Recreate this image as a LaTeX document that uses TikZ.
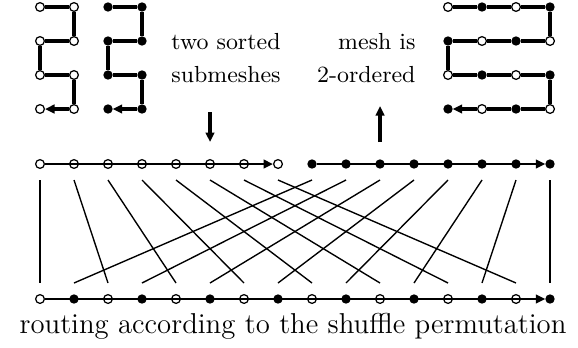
\documentclass[tikz,border=0pt]{standalone}
\usepackage{fontspec}
\usetikzlibrary{arrows.meta}
\begin{document}
\begin{tikzpicture}[x=0.4pt, y=-0.4pt,
  onode/.style={circle, draw, fill=white, line width=0.5pt, inner sep=0pt, minimum size=3.5pt},
  fnode/.style={circle, draw, fill=black, line width=0.5pt, inner sep=0pt, minimum size=3.2pt},
  kind0/.style={onode},
  kind1/.style={fnode},
  mesh/.style={line width=1.25pt},
  row/.style={line width=0.95pt},
  route/.style={line width=0.55pt},
  edge/.style={line width=1.05pt},
  tip/.style={-{Triangle[length=3.8pt, width=3.4pt]}},
  lbl/.style={font=\fontsize{9.3}{13.2}\selectfont, inner sep=0pt}
]
\useasboundingbox (0,0) rectangle (578,347);

% two sorted submeshes and the 2-ordered mesh
\foreach \c in {0,1}
  \foreach \r in {0,...,3} {
    \node[onode] (a\c\r) at ({40+34*\c},{7+34*\r}) {};
    \node[fnode] (b\c\r) at ({108+34*\c},{7+34*\r}) {};
  }
\foreach \c in {0,...,3}
  \foreach \r in {0,...,3} {
    \pgfmathtruncatemacro\k{mod(\c+\r,2)}
    \node[kind\k] (c\c\r) at ({448+34*\c},{7+34*\r}) {};
  }
\draw[mesh, tip] (a00) -- (a10) -- (a11) -- (a01) -- (a02) -- (a12) -- (a13) -- (a03);
\draw[mesh, tip] (b00) -- (b10) -- (b11) -- (b01) -- (b02) -- (b12) -- (b13) -- (b03);
\draw[mesh, tip] (c00) -- (c10) -- (c20) -- (c30) -- (c31) -- (c21) -- (c11) -- (c01)
  -- (c02) -- (c12) -- (c22) -- (c32) -- (c33) -- (c23) -- (c13) -- (c03);

\node[lbl, align=center] (sorted) at (226,58) {two sorted\\submeshes};
\node[lbl, align=right, anchor=east] (ordered) at (416,58) {mesh is\\2-ordered};
\coordinate (dtop) at (210,112);
\coordinate (dbot) at (210,142);
\coordinate (utop) at (380,106);
\coordinate (ubot) at (380,142);
\draw[mesh, tip] (dtop) -- (dbot);
\draw[mesh, tip] (ubot) -- (utop);

% rows before and after the shuffle
\foreach \i in {0,...,15} {
  \pgfmathtruncatemacro\k{\i>7}
  \node[kind\k] (t\i) at ({40+34*\i},164) {};
  \pgfmathtruncatemacro\k{mod(\i,2)}
  \node[kind\k] (s\i) at ({40+34*\i},299) {};
  \coordinate (u\i) at ({40+34*\i},180);
  \coordinate (l\i) at ({40+34*\i},283);
}
\draw[row, tip] (t0) foreach \i in {1,...,7} { -- (t\i) };
\draw[row, tip] (t8) foreach \i in {9,...,15} { -- (t\i) };
\draw[row, tip] (s0) foreach \i in {1,...,15} { -- (s\i) };

% shuffle routing
\draw[edge] (u0) -- (l0);
\draw[edge] (u15) -- (l15);
\foreach \i in {1,...,14} {
  \pgfmathtruncatemacro\j{\i<8 ? 2*\i : 2*\i-15}
  \draw[route] (u\i) -- (l\j);
}

\node[font=\fontsize{11.5}{14}\selectfont, anchor=base, inner sep=0pt] (caption) at (293,333)
  {routing according to the shuffle permutation};
\end{tikzpicture}
\end{document}
